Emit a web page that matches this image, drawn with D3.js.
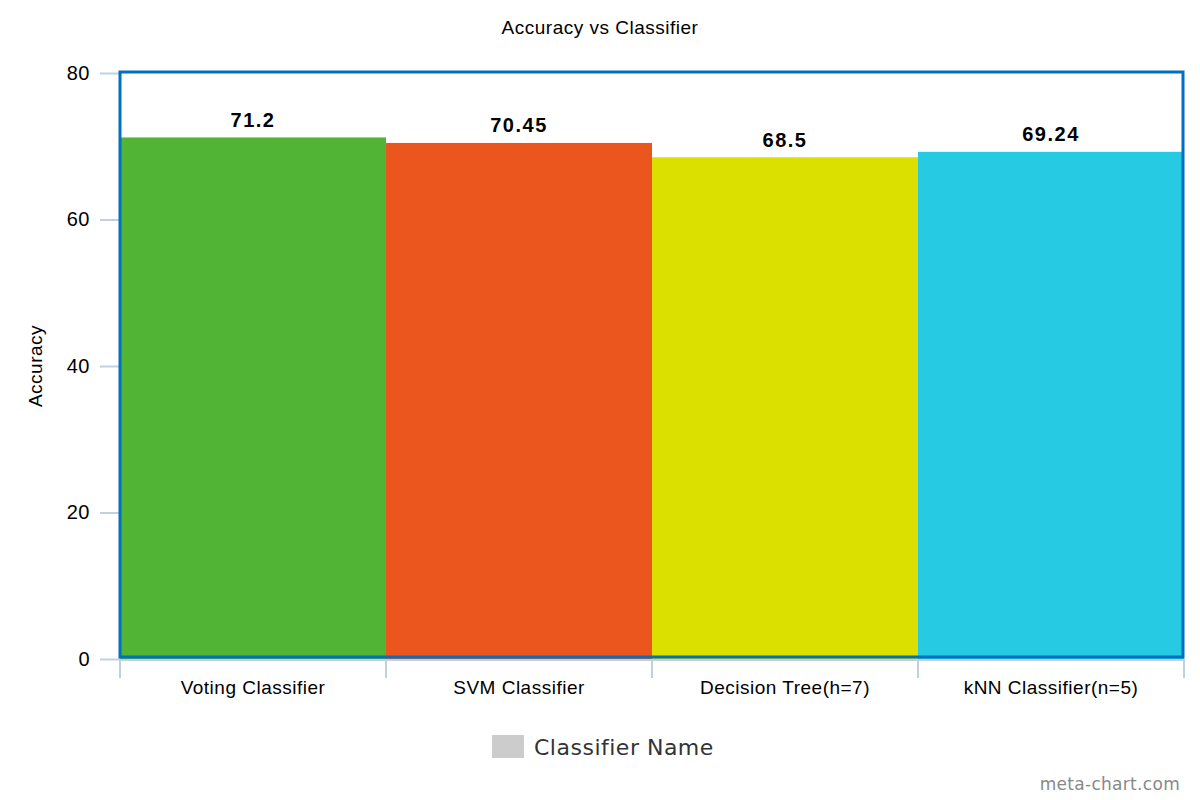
<!DOCTYPE html>
<html><head><meta charset="utf-8">
<script src="https://cdn.jsdelivr.net/npm/d3@7"></script>
<style>body{margin:0;background:#fff;} svg{display:block;}</style>
</head><body>
<svg id="c" width="1200" height="800"></svg>
<script>
const categories = ["Voting Classifier", "SVM Classifier", "Decision Tree(h=7)", "kNN Classifier(n=5)"];
const values = [71.2, 70.45, 68.5, 69.24];
const valueLabels = ["71.2", "70.45", "68.5", "69.24"];
const colors = ["#52B435", "#EB561E", "#DCE000", "#26CBE3"];
const yTicks = [0, 20, 40, 60, 80];

(function () {
const svg = d3.select("#c");
const pLeft = 120, pRight = 1184, pTop = 73, pBottom = 659;
const x = d3.scaleBand().domain(categories).range([pLeft, pRight]).padding(0);
const y = d3.scaleLinear().domain([0, 80]).range([pBottom, pTop]);
const font = "Liberation Sans, Arial, sans-serif";

// title
svg.append("text").attr("x", 600).attr("y", 34).attr("text-anchor", "middle")
  .attr("font-family", font).attr("font-size", 19).attr("letter-spacing", 0.5).attr("fill", "#000").text("Accuracy vs Classifier");

// y axis
const yAxis = svg.append("g").attr("transform", `translate(${pLeft},0)`)
  .call(d3.axisLeft(y).tickValues(yTicks).tickSize(20).tickPadding(10));
yAxis.select(".domain").remove();
yAxis.selectAll(".tick line").attr("stroke", "#C0D0E0").attr("stroke-width", 2);
yAxis.selectAll(".tick text").attr("font-family", font).attr("font-size", 20).attr("letter-spacing", 0.5).attr("fill", "#000");

svg.append("text").attr("transform", `translate(42,${(pTop + pBottom) / 2}) rotate(-90)`)
  .attr("text-anchor", "middle").attr("font-family", font).attr("font-size", 19).attr("letter-spacing", 0.5)
  .attr("fill", "#000").text("Accuracy");

// bars
svg.append("g").selectAll("rect").data(values).join("rect")
  .attr("x", (d, i) => x(categories[i]))
  .attr("width", x.bandwidth())
  .attr("y", d => y(d))
  .attr("height", d => y(0) - y(d))
  .attr("fill", (d, i) => colors[i]);

// value labels
svg.append("g").selectAll("text").data(values).join("text")
  .attr("x", (d, i) => x(categories[i]) + x.bandwidth() / 2)
  .attr("y", d => y(d) - 10.5)
  .attr("text-anchor", "middle")
  .attr("font-family", font).attr("font-size", 20).attr("font-weight", "bold")
  .attr("letter-spacing", 1.5).attr("fill", "#000")
  .text((d, i) => valueLabels[i]);

// x axis
const boundaries = categories.map(c => x(c)).concat([pRight]);
const xg = svg.append("g");
xg.append("line").attr("x1", pLeft - 1).attr("x2", pRight + 1).attr("y1", pBottom + 1).attr("y2", pBottom + 1)
  .attr("stroke", "#C0D0E0").attr("stroke-width", 2);
xg.selectAll("line.t").data(boundaries).join("line").attr("class", "t")
  .attr("x1", d => d).attr("x2", d => d).attr("y1", pBottom).attr("y2", pBottom + 19)
  .attr("stroke", "#C0D0E0").attr("stroke-width", 2);
xg.selectAll("text").data(categories).join("text")
  .attr("x", d => x(d) + x.bandwidth() / 2).attr("y", 694)
  .attr("text-anchor", "middle").attr("font-family", font).attr("font-size", 19).attr("letter-spacing", 0.5).attr("fill", "#000")
  .text(d => d);

// plot frame
svg.append("rect").attr("x", pLeft).attr("y", pTop - 1).attr("width", pRight - pLeft - 1).attr("height", pBottom - pTop - 1)
  .attr("fill", "none").attr("stroke", "#0070C0").attr("stroke-width", 3);

// legend
svg.append("rect").attr("x", 492).attr("y", 735).attr("width", 32).attr("height", 23).attr("fill", "#CCCCCC");
svg.append("text").attr("x", 534).attr("y", 755).attr("font-family", "DejaVu Sans, Verdana, sans-serif")
  .attr("font-size", 22).attr("letter-spacing", 0.5).attr("fill", "#333").text("Classifier Name");

// watermark
svg.append("text").attr("x", 1180).attr("y", 790).attr("text-anchor", "end")
  .attr("font-family", "DejaVu Sans, Verdana, sans-serif").attr("font-size", 17).attr("letter-spacing", 0.3)
  .attr("fill", "#888").text("meta-chart.com");
})();
</script>
</body></html>
